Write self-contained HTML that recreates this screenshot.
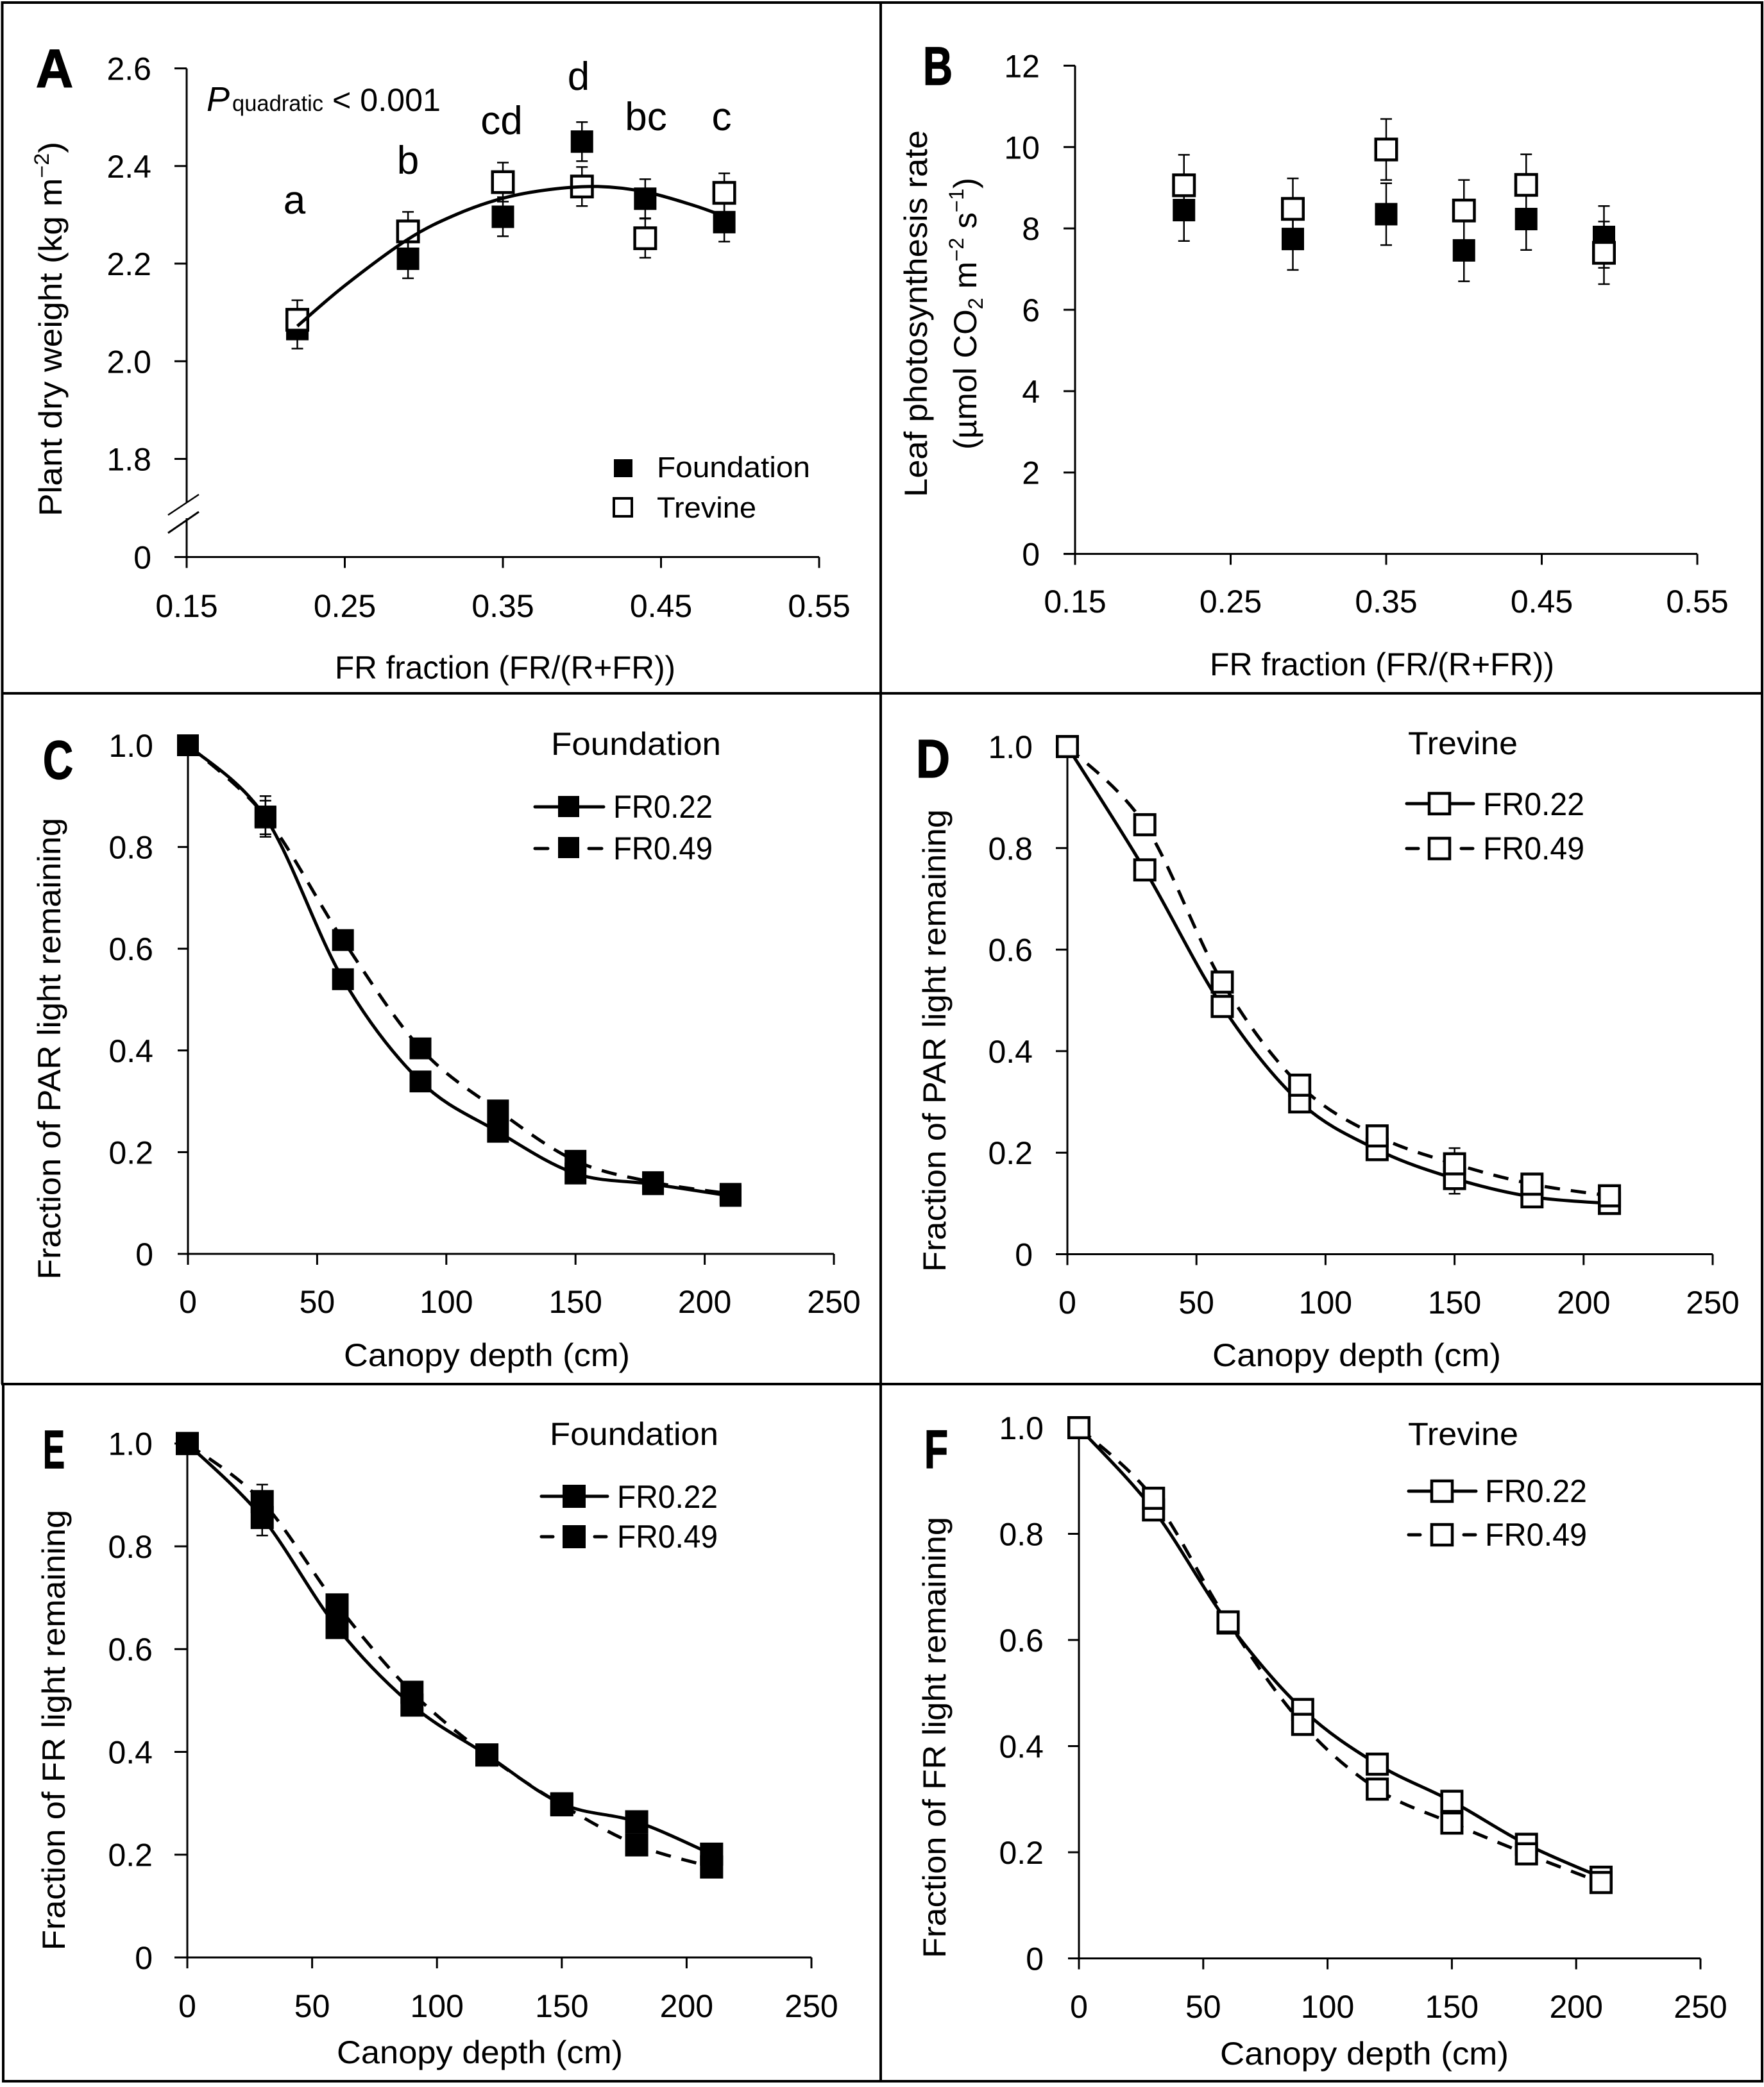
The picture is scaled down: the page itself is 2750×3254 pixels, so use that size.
<!DOCTYPE html>
<html lang="en">
<head>
<meta charset="utf-8">
<title>Plant dry weight, photosynthesis and canopy light profiles</title>
<style>
html,body{margin:0;padding:0;background:#fff;}
svg{display:block;}
text{font-family:"Liberation Sans",sans-serif;fill:#000;}
.t50{font-size:50px;}
.letter{font-size:84px;font-weight:bold;stroke:#000;stroke-width:1.5px;}
.sig{font-size:62px;text-anchor:middle;}
.frame{stroke:#000;stroke-width:4;}
</style>
</head>
<body>
<svg id="figure" xmlns="http://www.w3.org/2000/svg" width="2750" height="3254" viewBox="0 0 2750 3254">
  <rect x="0" y="0" width="2750" height="3254" fill="#fff"/>
  <g>
    <line class="frame" x1="2" y1="4" x2="2749" y2="4"/>
    <line class="frame" x1="2" y1="1081" x2="2749" y2="1081"/>
    <line class="frame" x1="2" y1="2158" x2="2749" y2="2158"/>
    <line class="frame" x1="3" y1="3245" x2="2749" y2="3245"/>
    <line class="frame" x1="3.5" y1="2" x2="3.5" y2="2158"/>
    <line class="frame" x1="5" y1="2158" x2="5" y2="3247"/>
    <line class="frame" x1="1373" y1="2" x2="1373" y2="3247"/>
    <line class="frame" x1="2747" y1="2" x2="2747" y2="3247"/>
  </g>

  <text class="letter" x="56" y="136" textLength="58" lengthAdjust="spacingAndGlyphs">A</text>
  <text class="letter" x="1439" y="132" textLength="46" lengthAdjust="spacingAndGlyphs">B</text>
  <text class="letter" x="67" y="1214" textLength="47" lengthAdjust="spacingAndGlyphs">C</text>
  <text class="letter" x="1428" y="1212" textLength="53" lengthAdjust="spacingAndGlyphs">D</text>
  <text class="letter" x="67" y="2289" textLength="34" lengthAdjust="spacingAndGlyphs">E</text>
  <text class="letter" x="1441" y="2289" textLength="37" lengthAdjust="spacingAndGlyphs">F</text>

  <!-- Panel A annotations -->
  <text x="322" y="173" font-size="54" font-style="italic">P</text>
  <text x="362" y="173" font-size="35" textLength="142" lengthAdjust="spacingAndGlyphs">quadratic</text>
  <text x="518" y="173" font-size="50" textLength="169" lengthAdjust="spacingAndGlyphs">&lt; 0.001</text>
  <text class="sig" x="459" y="333">a</text>
  <text class="sig" x="636" y="271">b</text>
  <text class="sig" x="782" y="209">cd</text>
  <text class="sig" x="902" y="140">d</text>
  <text class="sig" x="1007" y="203">bc</text>
  <text class="sig" x="1125" y="203">c</text>
  <rect x="957" y="716" width="29" height="28" fill="#000"/>
  <rect x="957" y="777" width="28" height="28" fill="#fff" stroke="#000" stroke-width="4"/>
  <text x="1024" y="744" font-size="45" fill="#222" textLength="239" lengthAdjust="spacingAndGlyphs">Foundation</text>
  <text x="1024" y="807" font-size="45" fill="#222" textLength="155" lengthAdjust="spacingAndGlyphs">Trevine</text>

  <!-- Axis titles -->
  <text class="t50" transform="translate(96,805) rotate(-90)" textLength="584" lengthAdjust="spacingAndGlyphs">Plant dry weight (kg m<tspan font-size="32" dy="-20">−2</tspan><tspan dy="20">)</tspan></text>
  <text class="t50" x="522" y="1058" textLength="531" lengthAdjust="spacingAndGlyphs">FR fraction (FR/(R+FR))</text>
  <text class="t50" transform="translate(1445,775) rotate(-90)" textLength="572" lengthAdjust="spacingAndGlyphs">Leaf photosynthesis rate</text>
  <text class="t50" transform="translate(1522,701) rotate(-90)" textLength="424" lengthAdjust="spacingAndGlyphs">(µmol CO<tspan font-size="32" dy="10">2</tspan><tspan dy="-10"> m</tspan><tspan font-size="32" dy="-20">−2</tspan><tspan dy="20"> s</tspan><tspan font-size="32" dy="-20">−1</tspan><tspan dy="20">)</tspan></text>
  <text class="t50" x="1886" y="1053" textLength="537" lengthAdjust="spacingAndGlyphs">FR fraction (FR/(R+FR))</text>
  <text class="t50" transform="translate(94,1995) rotate(-90)" textLength="720" lengthAdjust="spacingAndGlyphs">Fraction of PAR light remaining</text>
  <text class="t50" x="536" y="2130" textLength="446" lengthAdjust="spacingAndGlyphs">Canopy depth (cm)</text>
  <text class="t50" transform="translate(1474,1983) rotate(-90)" textLength="721" lengthAdjust="spacingAndGlyphs">Fraction of PAR light remaining</text>
  <text class="t50" x="1890" y="2130" textLength="450" lengthAdjust="spacingAndGlyphs">Canopy depth (cm)</text>
  <text class="t50" transform="translate(101,3041) rotate(-90)" textLength="687" lengthAdjust="spacingAndGlyphs">Fraction of FR light remaining</text>
  <text class="t50" x="525" y="3217" textLength="446" lengthAdjust="spacingAndGlyphs">Canopy depth (cm)</text>
  <text class="t50" transform="translate(1474,3053) rotate(-90)" textLength="688" lengthAdjust="spacingAndGlyphs">Fraction of FR light remaining</text>
  <text class="t50" x="1902" y="3219" textLength="450" lengthAdjust="spacingAndGlyphs">Canopy depth (cm)</text>

  <!-- Panel C legend -->
  <text class="t50" x="859" y="1177" textLength="265" lengthAdjust="spacingAndGlyphs">Foundation</text>
  <line x1="834" y1="1258" x2="941" y2="1258" stroke="#000" stroke-width="5" stroke-linecap="round"/>
  <rect x="870" y="1241" width="33" height="33" fill="#000"/>
  <text class="t50" x="956" y="1275" textLength="155" lengthAdjust="spacingAndGlyphs">FR0.22</text>
  <line x1="834" y1="1323" x2="854" y2="1323" stroke="#000" stroke-width="5" stroke-linecap="round"/>
  <line x1="918" y1="1323" x2="938" y2="1323" stroke="#000" stroke-width="5" stroke-linecap="round"/>
  <rect x="870" y="1305" width="33" height="33" fill="#000"/>
  <text class="t50" x="956" y="1340" textLength="155" lengthAdjust="spacingAndGlyphs">FR0.49</text>

  <!-- Panel D legend -->
  <text class="t50" x="2195" y="1176" textLength="171" lengthAdjust="spacingAndGlyphs">Trevine</text>
  <line x1="2193" y1="1253" x2="2297" y2="1253" stroke="#000" stroke-width="5" stroke-linecap="round"/>
  <rect x="2228" y="1237" width="32" height="32" fill="#fff" stroke="#000" stroke-width="4.5"/>
  <text class="t50" x="2312" y="1271" textLength="158" lengthAdjust="spacingAndGlyphs">FR0.22</text>
  <line x1="2193" y1="1323" x2="2211" y2="1323" stroke="#000" stroke-width="5" stroke-linecap="round"/>
  <line x1="2278" y1="1323" x2="2296" y2="1323" stroke="#000" stroke-width="5" stroke-linecap="round"/>
  <rect x="2228" y="1307" width="32" height="32" fill="#fff" stroke="#000" stroke-width="4.5"/>
  <text class="t50" x="2312" y="1340" textLength="158" lengthAdjust="spacingAndGlyphs">FR0.49</text>

  <!-- Panel E legend -->
  <text class="t50" x="857" y="2253" textLength="263" lengthAdjust="spacingAndGlyphs">Foundation</text>
  <line x1="844" y1="2333" x2="947" y2="2333" stroke="#000" stroke-width="5" stroke-linecap="round"/>
  <rect x="877" y="2315" width="36" height="36" fill="#000"/>
  <text class="t50" x="962" y="2351" textLength="157" lengthAdjust="spacingAndGlyphs">FR0.22</text>
  <line x1="844" y1="2396" x2="862" y2="2396" stroke="#000" stroke-width="5" stroke-linecap="round"/>
  <line x1="927" y1="2396" x2="945" y2="2396" stroke="#000" stroke-width="5" stroke-linecap="round"/>
  <rect x="877" y="2378" width="36" height="36" fill="#000"/>
  <text class="t50" x="962" y="2413" textLength="157" lengthAdjust="spacingAndGlyphs">FR0.49</text>

  <!-- Panel F legend -->
  <text class="t50" x="2195" y="2253" textLength="172" lengthAdjust="spacingAndGlyphs">Trevine</text>
  <line x1="2196" y1="2325" x2="2301" y2="2325" stroke="#000" stroke-width="5" stroke-linecap="round"/>
  <rect x="2232" y="2309" width="32" height="32" fill="#fff" stroke="#000" stroke-width="4.5"/>
  <text class="t50" x="2315" y="2342" textLength="159" lengthAdjust="spacingAndGlyphs">FR0.22</text>
  <line x1="2196" y1="2393" x2="2214" y2="2393" stroke="#000" stroke-width="5" stroke-linecap="round"/>
  <line x1="2282" y1="2393" x2="2300" y2="2393" stroke="#000" stroke-width="5" stroke-linecap="round"/>
  <rect x="2232" y="2377" width="32" height="32" fill="#fff" stroke="#000" stroke-width="4.5"/>
  <text class="t50" x="2315" y="2410" textLength="159" lengthAdjust="spacingAndGlyphs">FR0.49</text>

  <!-- Break marks on the panel A y axis -->
  <path d="M262 803 L310 771" stroke="#000" stroke-width="2.5" fill="none"/>
  <path d="M262 831 L310 798" stroke="#000" stroke-width="3" fill="none"/>
</svg>

<script>
// ---- Shared categories ----
const frFractions = [0.22, 0.29, 0.35, 0.40, 0.44, 0.49];
const canopyDepths = [0, 30, 60, 90, 120, 150, 180, 210];

// ---- Tick values and labels ----
const frTickValues = [0.15, 0.25, 0.35, 0.45, 0.55];
const frTickLabels = ['0.15', '0.25', '0.35', '0.45', '0.55'];
const depthTickValues = [0, 50, 100, 150, 200, 250];
const depthTickLabels = ['0', '50', '100', '150', '200', '250'];
const fractionTickValues = [0, 0.2, 0.4, 0.6, 0.8, 1.0];
const fractionTickLabels = ['0', '0.2', '0.4', '0.6', '0.8', '1.0'];
const dryWeightTickValues = [0, 1.8, 2.0, 2.2, 2.4, 2.6];
const dryWeightTickLabels = ['0', '1.8', '2.0', '2.2', '2.4', '2.6'];
const photoTickValues = [0, 2, 4, 6, 8, 10, 12];
const photoTickLabels = ['0', '2', '4', '6', '8', '10', '12'];

// ---- Panel A: plant dry weight ----
const aFoundation = [2.066, 2.21, 2.296, 2.45, 2.333, 2.285];
const aFoundationErr = [0.04, 0.04, 0.04, 0.04, 0.04, 0.04];
const aTrevine = [2.085, 2.266, 2.367, 2.358, 2.252, 2.345];
const aTrevineErr = [0.04, 0.04, 0.04, 0.04, 0.04, 0.04];
const aTrendX = [0.22, 0.25, 0.29, 0.32, 0.35, 0.38, 0.41, 0.44, 0.47, 0.49];
const aTrendY = [2.072, 2.155, 2.25, 2.30, 2.334, 2.352, 2.358, 2.347, 2.32, 2.297];

// ---- Panel B: leaf photosynthesis ----
const bFoundation = [8.45, 7.74, 8.35, 7.46, 8.23, 7.79];
const bFoundationErr = [0.76, 0.76, 0.76, 0.76, 0.76, 0.76];
const bTrevine = [9.06, 8.48, 9.94, 8.44, 9.07, 7.4];
const bTrevineErr = [0.75, 0.75, 0.75, 0.75, 0.75, 0.77];

// ---- Panel C: PAR, Foundation ----
const cFr022 = [1.0, 0.858, 0.54, 0.339, 0.24, 0.158, 0.137, 0.114];
const cFr022Err = [0, 0.033, 0.01, 0.01, 0.01, 0.01, 0.01, 0.01];
const cFr049 = [1.0, 0.86, 0.617, 0.404, 0.282, 0.183, 0.141, 0.118];
const cFr049Err = [0, 0.04, 0.01, 0.01, 0.01, 0.01, 0.01, 0.01];

// ---- Panel D: PAR, Trevine ----
const dFr022 = [1.0, 0.757, 0.488, 0.30, 0.206, 0.149, 0.113, 0.10];
const dFr022Err = [0, 0.01, 0.01, 0.01, 0.01, 0.03, 0.01, 0.01];
const dFr049 = [1.0, 0.846, 0.536, 0.333, 0.233, 0.178, 0.138, 0.115];
const dFr049Err = [0, 0.01, 0.01, 0.01, 0.01, 0.031, 0.01, 0.01];

// ---- Panel E: FR, Foundation ----
const eFr022 = [1.0, 0.856, 0.642, 0.491, 0.394, 0.299, 0.264, 0.201];
const eFr022Err = [0, 0.035, 0.01, 0.01, 0.01, 0.01, 0.01, 0.01];
const eFr049 = [1.0, 0.887, 0.686, 0.516, 0.394, 0.297, 0.219, 0.176];
const eFr049Err = [0, 0.033, 0.01, 0.01, 0.01, 0.01, 0.01, 0.01];

// ---- Panel F: FR, Trevine ----
const fFr022 = [1.0, 0.845, 0.632, 0.469, 0.366, 0.296, 0.215, 0.153];
const fFr022Err = [0, 0.01, 0.01, 0.01, 0.01, 0.01, 0.01, 0.01];
const fFr049 = [1.0, 0.867, 0.634, 0.441, 0.319, 0.255, 0.197, 0.143];
const fFr049Err = [0, 0.01, 0.01, 0.01, 0.01, 0.01, 0.01, 0.01];

const SVG_NS = 'http://www.w3.org/2000/svg';
const figure = document.getElementById('figure');

function svgEl(tag, attrs, parent) {
  const el = document.createElementNS(SVG_NS, tag);
  Object.keys(attrs).forEach(function (k) { el.setAttribute(k, attrs[k]); });
  parent.appendChild(el);
  return el;
}

function linearScale(d0, d1, r0, r1) {
  return function (v) { return r0 + (v - d0) * (r1 - r0) / (d1 - d0); };
}

// Broken axis: zero sits below the break, 1.8-2.6 is linear above it
function brokenDryWeightScale(zeroPx, lowValue, lowPx, highValue, highPx) {
  const upper = linearScale(lowValue, highValue, lowPx, highPx);
  return function (v) { return v < lowValue ? zeroPx : upper(v); };
}

// Excel-style smoothed line through the given points
function smoothPath(px, py) {
  let d = 'M' + px[0].toFixed(2) + ' ' + py[0].toFixed(2);
  for (let i = 0; i < px.length - 1; i++) {
    const p = Math.max(i - 1, 0);
    const n = Math.min(i + 2, px.length - 1);
    const c1x = px[i] + (px[i + 1] - px[p]) / 6;
    const c1y = py[i] + (py[i + 1] - py[p]) / 6;
    const c2x = px[i + 1] - (px[n] - px[i]) / 6;
    const c2y = py[i + 1] - (py[n] - py[i]) / 6;
    d += 'C' + c1x.toFixed(2) + ' ' + c1y.toFixed(2) + ' ' + c2x.toFixed(2) + ' ' + c2y.toFixed(2) + ' ' + px[i + 1].toFixed(2) + ' ' + py[i + 1].toFixed(2);
  }
  return d;
}

function drawAxes(panel) {
  const g = svgEl('g', {}, figure);
  
  
  const yZero = panel.y(panel.yTicks[0]);
  const yTop = panel.y(panel.yTicks[panel.yTicks.length - 1]);
  const xLeft = panel.x(panel.xTicks[0]);
  const xRight = panel.x(panel.xTicks[panel.xTicks.length - 1]);

  const xAxis = svgEl('line', { x1: panel.tickLeft, y1: yZero, x2: xRight, y2: yZero, stroke: '#000', 'stroke-width': 3 }, g);
  
  

  const segments = panel.axisGap ? [[yTop, panel.axisGap[0]], [panel.axisGap[1], yZero + 17]] : [[yTop, yZero + 17]];
  segments.forEach(function (seg) {
    const yAxis = svgEl('line', { x1: xLeft, y1: seg[0], x2: xLeft, y2: seg[1], stroke: '#000', 'stroke-width': 3 }, g);
    
    
  });

  panel.xTicks.forEach(function (v, i) {
    const px = panel.x(v);
    const tick = svgEl('line', { x1: px, y1: yZero, x2: px, y2: yZero + 17, stroke: '#000', 'stroke-width': 3 }, g);
    
    
    const label = svgEl('text', { x: px, y: panel.xLabelY, 'text-anchor': 'middle', 'font-size': 50 }, g);
    
    
    label.textContent = panel.xLabels[i];
  });

  panel.yTicks.forEach(function (v, i) {
    const py = panel.y(v);
    const tick = svgEl('line', { x1: panel.tickLeft, y1: py, x2: xLeft, y2: py, stroke: '#000', 'stroke-width': 3 }, g);
    
    
    const label = svgEl('text', { x: panel.labelEnd, y: py + 18, 'text-anchor': 'end', 'font-size': 50 }, g);
    
    
    label.textContent = panel.yLabels[i];
  });
}

function drawErrorBars(panel, g, xs, ys, errs) {
  xs.forEach(function (xv, i) {
    if (!errs[i]) return;
    const px = panel.x(xv);
    const hi = panel.y(ys[i] + errs[i]);
    const lo = panel.y(ys[i] - errs[i]);
    const stem = svgEl('line', { x1: px, y1: hi, x2: px, y2: lo, stroke: '#000', 'stroke-width': 2.5 }, g);
    
    
    const capTop = svgEl('line', { x1: px - 9, y1: hi, x2: px + 9, y2: hi, stroke: '#000', 'stroke-width': 2.5 }, g);
    
    
    const capBottom = svgEl('line', { x1: px - 9, y1: lo, x2: px + 9, y2: lo, stroke: '#000', 'stroke-width': 2.5 }, g);
    
    
  });
}

function drawMarkers(panel, g, xs, ys, filled) {
  xs.forEach(function (xv, i) {
    const px = panel.x(xv);
    const py = panel.y(ys[i]);
    const size = filled ? panel.filledSize : panel.openSize - 4.5;
    const attrs = { x: px - size / 2, y: py - size / 2, width: size, height: size };
    if (filled) {
      attrs.fill = '#000';
    } else {
      attrs.fill = '#fff';
      attrs.stroke = '#000';
      attrs['stroke-width'] = 4.5;
    }
    const marker = svgEl('rect', attrs, g);
    
    
  });
}

function drawCurve(panel, g, xs, ys, dashed) {
  const attrs = {
    d: smoothPath(xs.map(panel.x), ys.map(panel.y)),
    fill: 'none', stroke: '#000', 'stroke-width': 5
  };
  if (dashed) attrs['stroke-dasharray'] = '24 17';
  const curve = svgEl('path', attrs, g);
  
  
}

function drawScatterPanel(panel, foundation, foundationErr, trevine, trevineErr) {
  drawAxes(panel);
  const g = svgEl('g', {}, figure);
  
  
  drawErrorBars(panel, g, frFractions, foundation, foundationErr);
  drawErrorBars(panel, g, frFractions, trevine, trevineErr);
  drawMarkers(panel, g, frFractions, foundation, true);
  drawMarkers(panel, g, frFractions, trevine, false);
  return g;
}

function drawDepthPanel(panel, fr022, fr022Err, fr049, fr049Err, filled) {
  drawAxes(panel);
  const g = svgEl('g', {}, figure);
  
  
  drawErrorBars(panel, g, canopyDepths, fr022, fr022Err);
  drawErrorBars(panel, g, canopyDepths, fr049, fr049Err);
  drawCurve(panel, g, canopyDepths, fr022, false);
  drawCurve(panel, g, canopyDepths, fr049, true);
  drawMarkers(panel, g, canopyDepths, fr022, filled);
  drawMarkers(panel, g, canopyDepths, fr049, filled);
}

const panelA = {
  name: 'panel-a', xTicks: frTickValues, xLabels: frTickLabels, yTicks: dryWeightTickValues, yLabels: dryWeightTickLabels,
  x: linearScale(0.15, 0.55, 291, 1277), y: brokenDryWeightScale(868.5, 1.8, 715.5, 2.6, 106.6),
  tickLeft: 272, labelEnd: 236, xLabelY: 962, axisGap: [783, 808], filledSize: 35, openSize: 37
};
const panelB = {
  name: 'panel-b', xTicks: frTickValues, xLabels: frTickLabels, yTicks: photoTickValues, yLabels: photoTickLabels,
  x: linearScale(0.15, 0.55, 1676, 2646), y: linearScale(0, 12, 863.6, 102.4),
  tickLeft: 1658, labelEnd: 1621, xLabelY: 955, filledSize: 35, openSize: 37
};
const panelC = {
  name: 'panel-c', xTicks: depthTickValues, xLabels: depthTickLabels, yTicks: fractionTickValues, yLabels: fractionTickLabels,
  x: linearScale(0, 250, 293, 1300), y: linearScale(0, 1, 1955, 1162),
  tickLeft: 277, labelEnd: 239, xLabelY: 2047, filledSize: 34, openSize: 36
};
const panelD = {
  name: 'panel-d', xTicks: depthTickValues, xLabels: depthTickLabels, yTicks: fractionTickValues, yLabels: fractionTickLabels,
  x: linearScale(0, 250, 1664, 2670), y: linearScale(0, 1, 1955.5, 1164),
  tickLeft: 1646, labelEnd: 1610, xLabelY: 2048, filledSize: 34, openSize: 36
};
const panelE = {
  name: 'panel-e', xTicks: depthTickValues, xLabels: depthTickLabels, yTicks: fractionTickValues, yLabels: fractionTickLabels,
  x: linearScale(0, 250, 292, 1265), y: linearScale(0, 1, 3052, 2250.7),
  tickLeft: 272, labelEnd: 238, xLabelY: 3145, filledSize: 36, openSize: 36
};
const panelF = {
  name: 'panel-f', xTicks: depthTickValues, xLabels: depthTickLabels, yTicks: fractionTickValues, yLabels: fractionTickLabels,
  x: linearScale(0, 250, 1682, 2651), y: linearScale(0, 1, 3053.5, 2226),
  tickLeft: 1665, labelEnd: 1627, xLabelY: 3146, filledSize: 34, openSize: 36
};

const aSeries = drawScatterPanel(panelA, aFoundation, aFoundationErr, aTrevine, aTrevineErr);
drawCurve(panelA, aSeries, aTrendX, aTrendY, false);
drawScatterPanel(panelB, bFoundation, bFoundationErr, bTrevine, bTrevineErr);
drawDepthPanel(panelC, cFr022, cFr022Err, cFr049, cFr049Err, true);
drawDepthPanel(panelD, dFr022, dFr022Err, dFr049, dFr049Err, false);
drawDepthPanel(panelE, eFr022, eFr022Err, eFr049, eFr049Err, true);
drawDepthPanel(panelF, fFr022, fFr022Err, fFr049, fFr049Err, false);
</script>
</body>
</html>
